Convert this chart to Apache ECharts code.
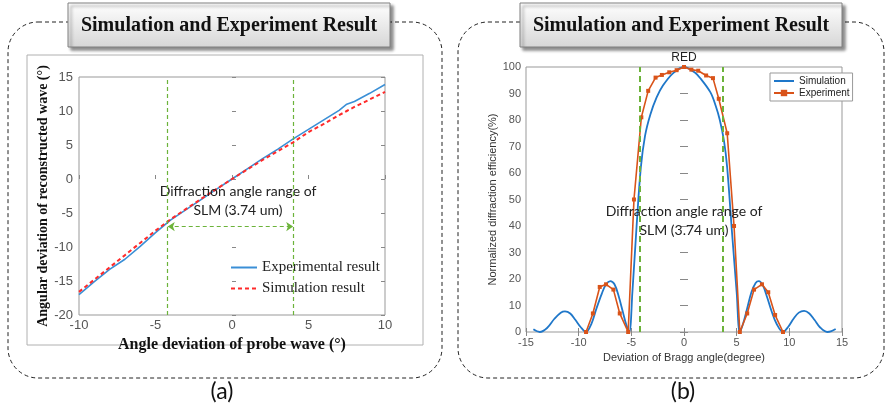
<!DOCTYPE html>
<html>
<head>
<meta charset="utf-8">
<script src="https://cdn.jsdelivr.net/npm/echarts@6/dist/echarts.min.js"></script>
<style>
  html, body { margin: 0; padding: 0; background: #fff; }
  #chart { width: 886px; height: 412px; }
</style>
</head>
<body>
<div id="chart"></div>
<script>
// panel (a): angle of probe wave vs reconstructed wave
const aX = [-10, -9, -8, -7, -6, -5, -4, -3, -2, -1, 0, 1, 2, 3, 4, 5, 6, 7, 7.5, 8, 9, 10];
const aExp = [-17, -15.1, -13.3, -11.8, -9.9, -7.9, -6.0, -4.5, -3.0, -1.5, 0, 1.5, 3.0, 4.4, 5.9, 7.3, 8.7, 10.1, 11.0, 11.4, 12.6, 13.9];
const aSim = [-16.6, -14.8, -13.0, -11.2, -9.4, -7.6, -5.9, -4.4, -2.9, -1.45, 0, 1.4, 2.8, 4.1, 5.4, 6.9, 8.1, 9.4, 10.0, 10.6, 11.7, 12.8];
const aRange = [-4.2, 4.0];
const aArrowY = -7;

// panel (b): normalized diffraction efficiency
const bSimX = [-14.3, -13.7, -13.0, -12.3, -11.7, -11.3, -10.8, -10.3, -9.8, -9.3, -8.8, -8.3, -7.8, -7.4, -7.0, -6.6, -6.2, -5.8, -5.5, -5.2,
  -4.9, -4.5, -4.1, -3.7, -3.2, -2.6, -2.0, -1.0, 0, 1.0, 1.6, 2.5, 3.0, 3.4, 3.8, 4.1, 4.55, 5.0, 5.3,
  5.6, 6.0, 6.4, 6.8, 7.1, 7.5, 7.9, 8.3, 8.8, 9.4, 9.9, 10.4, 10.9, 11.4, 11.9, 12.4, 12.9, 13.6, 14.0, 14.4];
const bSimY = [1.0, 0, 1.5, 5, 7.3, 7.8, 7, 4.5, 1.8, 0, 3, 9, 14.5, 18, 19.2, 18, 13.5, 7.5, 3, 0,
  15, 40, 62, 74, 82, 88.5, 93, 97.8, 100, 98, 95.5, 90.5, 85.5, 80, 72, 62, 38, 15, 0,
  3, 9, 15, 18.5, 19.2, 17.5, 13, 8, 3, 0, 2, 5, 7.3, 8, 7, 4.5, 1.8, 0, 0.3, 1.1];
const bExpX = [-9.3, -8.65, -8.0, -7.4, -6.7, -6.1, -5.3, -4.75, -4.05, -3.4, -2.7, -2.1, -1.4, -0.7, 0,
  0.7, 1.35, 2.1, 2.75, 3.3, 4.1, 4.75, 5.3, 6.0, 6.65, 7.4, 8.0, 8.65, 9.4];
const bExpY = [0, 7, 17, 18, 16, 7, 0, 50, 81, 91, 96, 97, 98, 98.8, 100,
  99, 98.6, 96.8, 95.8, 88, 75, 40, 0, 7, 16, 18, 15, 6.4, 0];
const bRange = [-4.2, 3.7];

const pairs = (xs, ys) => xs.map((x, i) => [x, ys[i]]);

const blue = '#1f77c9';
const orange = '#d95319';
const green = '#6cb33a';
const tickGray = '#555';

const titleFill = {
  type: 'linear', x: 0, y: 0, x2: 0, y2: 1,
  colorStops: [{ offset: 0, color: '#ffffff' }, { offset: 1, color: '#d6d6d6' }]
};
const titleBox = (x) => ({
  type: 'rect', z: 10,
  shape: { x: x, y: 3, width: 322, height: 44 },
  style: { fill: titleFill, stroke: '#808080', lineWidth: 1, shadowBlur: 3, shadowOffsetX: 3, shadowOffsetY: 3, shadowColor: 'rgba(0,0,0,0.45)' }
});
const titleText = (x) => ({
  type: 'text', z: 11, x: x, y: 26,
  style: { text: 'Simulation and Experiment Result', font: 'bold 20px "Liberation Serif"', fill: '#111', align: 'center', verticalAlign: 'middle' }
});
const noteText = (x, y) => ({
  type: 'text', z: 5, x: x, y: y,
  style: { text: 'Diffraction angle range of\nSLM (3.74 um)', font: '14px Lato', lineHeight: 19, fill: '#222', align: 'center', verticalAlign: 'middle' }
});
const greenLine = (x, w, dash) => ({ xAxis: x, lineStyle: { color: green, width: w, type: dash } });
const noMarker = { opacity: 0 };

const myChart = echarts.init(document.getElementById('chart'));

const option = {
  animation: false,
  backgroundColor: '#fff',
  graphic: [
    { type: 'rect', shape: { x: 8, y: 22, width: 434, height: 356, r: 30 }, style: { fill: 'none', stroke: '#222', lineWidth: 1, lineDash: [4, 3] } },
    { type: 'rect', shape: { x: 458, y: 22, width: 426, height: 356, r: 30 }, style: { fill: 'none', stroke: '#222', lineWidth: 1, lineDash: [4, 3] } },
    { type: 'rect', shape: { x: 27, y: 55, width: 396, height: 290 }, style: { fill: 'none', stroke: '#b0b0b0', lineWidth: 1 } },
    titleBox(68), titleText(229),
    titleBox(520), titleText(681),
    noteText(238, 201),
    noteText(684, 221),
    { type: 'text', x: 684, y: 58, style: { text: 'RED', font: '12px "Liberation Sans"', fill: '#222', align: 'center', verticalAlign: 'middle' } },
    { type: 'text', x: 222, y: 392, style: { text: '(a)', font: '23px Lato', fill: '#111', align: 'center', verticalAlign: 'middle' } },
    { type: 'text', x: 683, y: 392, style: { text: '(b)', font: '23px Lato', fill: '#111', align: 'center', verticalAlign: 'middle' } }
  ],
  grid: [
    { left: 79, right: 501, top: 77, bottom: 97, show: true, borderColor: '#999', borderWidth: 1 },
    { left: 526, right: 44, top: 67, bottom: 80, show: true, borderColor: '#999', borderWidth: 1 }
  ],
  legend: [
    {
      data: [
        { name: 'Experimental result', itemStyle: noMarker },
        { name: 'Simulation result', itemStyle: noMarker }
      ],
      orient: 'vertical', left: 225, top: 255,
      itemWidth: 26, itemHeight: 12, itemGap: 6,
      textStyle: { fontFamily: 'Liberation Serif', fontSize: 15, color: '#222' }
    },
    {
      data: [{ name: 'Simulation', itemStyle: noMarker }, 'Experiment'],
      orient: 'vertical', left: 770, top: 73,
      itemWidth: 20, itemHeight: 8, itemGap: 2, padding: [3, 3, 3, 3],
      borderColor: '#999', borderWidth: 1, backgroundColor: '#fff',
      textStyle: { fontFamily: 'Liberation Sans', fontSize: 10, color: '#222' }
    }
  ],
  xAxis: [
    {
      gridIndex: 0, type: 'value', min: -10, max: 10, interval: 5,
      name: 'Angle deviation of probe wave (°)', nameLocation: 'middle', nameGap: 18,
      nameTextStyle: { fontFamily: 'Liberation Serif', fontWeight: 'bold', fontSize: 16, color: '#111' },
      axisLine: { show: false }, axisTick: { inside: true, length: 4, lineStyle: { color: '#888' } },
      splitLine: { show: false },
      axisLabel: { color: tickGray, fontFamily: 'Liberation Sans', fontSize: 13, margin: 4 }
    },
    {
      gridIndex: 1, type: 'value', min: -15, max: 15, interval: 5,
      name: 'Deviation of Bragg angle(degree)', nameLocation: 'middle', nameGap: 20,
      nameTextStyle: { fontFamily: 'Liberation Sans', fontSize: 11, color: '#333' },
      axisLine: { show: false }, axisTick: { inside: true, length: 4, lineStyle: { color: '#888' } },
      splitLine: { show: false },
      axisLabel: { color: tickGray, fontFamily: 'Liberation Sans', fontSize: 11, margin: 5 }
    },
    {
      gridIndex: 1, type: 'value', min: -15, max: 15, interval: 5, position: 'top',
      axisLine: { show: false }, axisTick: { inside: true, length: 4, lineStyle: { color: '#888' } },
      splitLine: { show: false }, axisLabel: { show: false }
    }
  ],
  yAxis: [
    {
      gridIndex: 0, type: 'value', min: -20, max: 15, interval: 5,
      name: 'Angular deviation of reconstructed wave (°)', nameLocation: 'middle', nameGap: 24,
      nameTextStyle: { fontFamily: 'Liberation Serif', fontWeight: 'bold', fontSize: 14, color: '#111' },
      axisLine: { show: false }, axisTick: { inside: true, length: 4, lineStyle: { color: '#888' } },
      splitLine: { show: false },
      axisLabel: { color: tickGray, fontFamily: 'Liberation Sans', fontSize: 13, margin: 6 }
    },
    {
      gridIndex: 0, type: 'value', min: -20, max: 15, interval: 5, position: 'right',
      axisLine: { show: false }, axisTick: { inside: true, length: 4, lineStyle: { color: '#888' } },
      splitLine: { show: false }, axisLabel: { show: false }
    },
    {
      gridIndex: 1, type: 'value', min: 0, max: 100, interval: 10,
      name: 'Normalized diffraction efficiency(%)', nameLocation: 'middle', nameGap: 17,
      nameTextStyle: { fontFamily: 'Liberation Sans', fontSize: 11, color: '#333' },
      axisLine: { show: false }, axisTick: { inside: true, length: 4, lineStyle: { color: '#888' } },
      splitLine: { show: false },
      axisLabel: { color: tickGray, fontFamily: 'Liberation Sans', fontSize: 11, margin: 5 }
    },
    {
      gridIndex: 1, type: 'value', min: 0, max: 100, interval: 10, position: 'right',
      axisLine: { show: false }, axisTick: { inside: true, length: 4, lineStyle: { color: '#888' } },
      splitLine: { show: false }, axisLabel: { show: false }
    }
  ],
  series: [
    {
      name: 'Experimental result', type: 'line', xAxisIndex: 0, yAxisIndex: 0,
      data: pairs(aX, aExp), showSymbol: false, symbol: 'none',
      lineStyle: { color: '#3a8fd6', width: 1.6 }, itemStyle: { color: '#3a8fd6' }, z: 3,
      markLine: {
        silent: true, label: { show: false }, symbolSize: 7,
        lineStyle: { color: green, type: [4, 3], width: 1.2 },
        data: [
          [{ coord: [aRange[0], aArrowY], symbol: 'arrow' }, { coord: [aRange[1], aArrowY], symbol: 'arrow' }]
        ]
      }
    },
    {
      name: 'Simulation result', type: 'line', xAxisIndex: 0, yAxisIndex: 0,
      data: pairs(aX, aSim), showSymbol: false, symbol: 'none',
      lineStyle: { color: '#ff2a2a', width: 2, type: [4, 3] }, itemStyle: { color: '#ff2a2a' }, z: 4,
      markLine: {
        silent: true, symbol: 'none', label: { show: false },
        lineStyle: { color: green, type: [4, 3], width: 1.2 },
        data: [greenLine(aRange[0], 1.2, [4, 3]), greenLine(aRange[1], 1.2, [4, 3])]
      }
    },
    {
      name: 'Simulation', type: 'line', xAxisIndex: 1, yAxisIndex: 2,
      data: pairs(bSimX, bSimY), smooth: 0.35, showSymbol: false, symbol: 'none',
      lineStyle: { color: blue, width: 1.8 }, itemStyle: { color: blue }, z: 3,
      markLine: {
        silent: true, symbol: 'none', label: { show: false },
        lineStyle: { color: green, type: [6, 4], width: 2 },
        data: [greenLine(bRange[0], 2, [6, 4]), greenLine(bRange[1], 2, [6, 4])]
      }
    },
    {
      name: 'Experiment', type: 'line', xAxisIndex: 1, yAxisIndex: 2,
      data: pairs(bExpX, bExpY), symbol: 'rect', symbolSize: 4,
      lineStyle: { color: orange, width: 1.6 }, itemStyle: { color: orange }, z: 4
    }
  ]
};

option && myChart.setOption(option);
</script>
</body>
</html>
